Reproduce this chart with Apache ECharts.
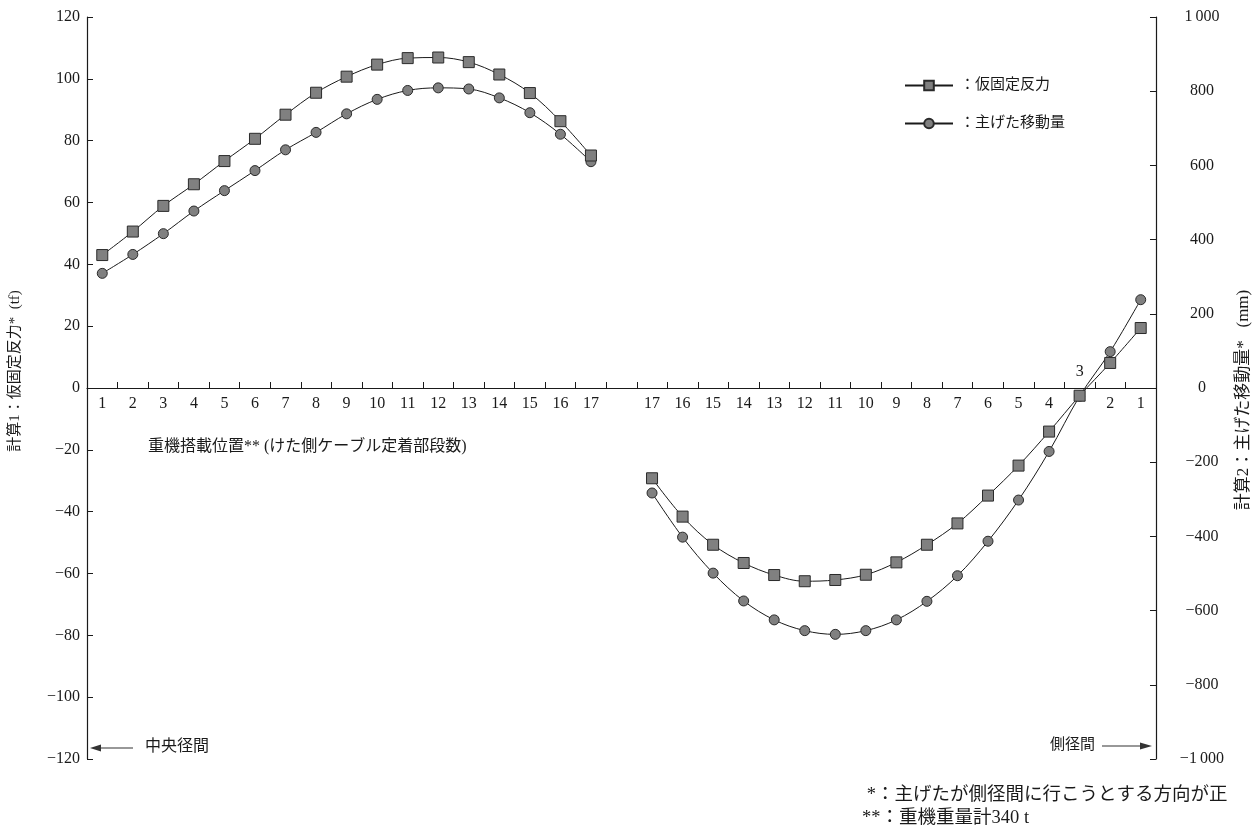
<!DOCTYPE html>
<html>
<head>
<meta charset="utf-8">
<script src="https://cdn.jsdelivr.net/npm/echarts@6/dist/echarts.min.js"></script>
<style>
html,body{margin:0;padding:0;background:#fff;}
#chart{width:1260px;height:835px;}
</style>
</head>
<body>
<div id="chart"></div>
<script>
// Categories: loading position (girder-side cable anchorage stage), centre span 1..17, gap, side span 17..1
const categories = ['1','2','3','4','5','6','7','8','9','10','11','12','13','14','15','16','17','',
                    '17','16','15','14','13','12','11','10','9','8','7','6','5','4','3','2','1'];
// Labels drawn below the axis (right-side "3" is drawn above the axis instead)
const bottomLabels = ['1','2','3','4','5','6','7','8','9','10','11','12','13','14','15','16','17','',
                      '17','16','15','14','13','12','11','10','9','8','7','6','5','4','','2','1'];
const topLabels = ['','','','','','','','','','','','','','','','','','',
                   '','','','','','','','','','','','','','','3','',''];

// 計算1: 仮固定反力 (tf)
const reactionCentre = [43.0, 50.6, 58.9, 65.9, 73.4, 80.6, 88.4, 95.5, 100.7, 104.6, 106.7, 106.9, 105.4, 101.4, 95.4, 86.3, 75.2];
const reactionSide   = [-29.2, -41.6, -50.7, -56.6, -60.5, -62.5, -62.1, -60.4, -56.4, -50.7, -43.8, -34.8, -25.1, -14.1, -2.5, 8.1, 19.4];
// 計算2: 主げた移動量 (mm)
const dispCentre = [309, 360, 416, 477, 532, 586, 642, 689, 739, 778, 802, 809, 806, 782, 742, 684, 610];
const dispSide   = [-283, -402, -499, -574, -625, -654, -664, -654, -625, -575, -506, -413, -302, -171, -22, 98, 238];

const seriesNames = ['仮固定反力', '主げた移動量'];
const leftTicks = {min: -120, max: 120, interval: 20};
const rightTicks = {min: -1000, max: 1000, interval: 200};

const SERIF = "'Liberation Serif', 'Noto Sans CJK JP', serif";
const JP = "'Liberation Serif', 'Noto Sans CJK JP', serif";
const INK = '#1a1a1a';

const GRID = {left: 85, right: 102, top: 17, bottom: 76};
const PLOT_H = 835 - GRID.top - GRID.bottom;
// zero line sits at the middle of the symmetric value range
const ZERO_OFFSET = -PLOT_H * (leftTicks.max / (leftTicks.max - leftTicks.min));

function minusFmt(v) {
  const a = Math.abs(v);
  let s = a >= 1000 ? (Math.floor(a / 1000) + '\u2009' + String(a % 1000).padStart(3, '0')) : String(a);
  return v < 0 ? '\u2212' + s : s;
}

const chart = echarts.init(document.getElementById('chart'), null, {renderer: 'canvas'});

const option = {
  backgroundColor: '#ffffff',
  animation: false,
  grid: {left: GRID.left, right: GRID.right, top: GRID.top, bottom: GRID.bottom, containLabel: false},
  legend: {
    data: seriesNames,
    orient: 'vertical',
    left: 899,
    top: 73,
    itemWidth: 48,
    itemHeight: 12,
    itemGap: 23,
    formatter: '：{name}',
    textStyle: {fontFamily: JP, fontSize: 15, color: INK, padding: [0, 0, 0, 2]}
  },
  xAxis: [{
    type: 'category',
    data: categories,
    position: 'bottom',
    offset: ZERO_OFFSET,
    boundaryGap: true,
    axisLine: {onZero: false, lineStyle: {color: INK, width: 1.2}},
    axisTick: {show: true, inside: true, length: 6, interval: 0, lineStyle: {color: INK}},
    axisLabel: {
      interval: 0, margin: 8, color: INK, fontFamily: SERIF, fontSize: 16,
      formatter: function (v, i) { return bottomLabels[i]; }
    },
    splitLine: {show: false}
  }, {
    type: 'category',
    data: categories,
    position: 'top',
    offset: ZERO_OFFSET,
    boundaryGap: true,
    axisLine: {show: false, onZero: false},
    axisTick: {show: false},
    axisLabel: {
      interval: 0, margin: 8, color: INK, fontFamily: SERIF, fontSize: 16,
      formatter: function (v, i) { return topLabels[i]; }
    },
    splitLine: {show: false}
  }],
  yAxis: [{
    type: 'value',
    position: 'left',
    min: leftTicks.min, max: leftTicks.max, interval: leftTicks.interval,
    name: '計算1：仮固定反力*  (tf)',
    nameLocation: 'middle',
    nameGap: 64,
    nameRotate: 90,
    nameTextStyle: {fontFamily: JP, fontSize: 15, color: INK, padding: [0, 0, 0, 34]},
    axisLine: {show: true, onZero: false, lineStyle: {color: INK, width: 1.2}},
    axisTick: {show: true, inside: true, length: 6, lineStyle: {color: INK}},
    axisLabel: {margin: 7, color: INK, fontFamily: SERIF, fontSize: 16, formatter: minusFmt},
    splitLine: {show: false}
  }, {
    type: 'value',
    position: 'right',
    min: rightTicks.min, max: rightTicks.max, interval: rightTicks.interval,
    name: '計算2：主げた移動量*   (mm)',
    nameLocation: 'middle',
    nameGap: 77,
    nameRotate: 90,
    nameTextStyle: {fontFamily: JP, fontSize: 17, color: INK, padding: [0, 0, 0, -24]},
    axisLine: {show: true, onZero: false, lineStyle: {color: INK, width: 1.2}},
    axisTick: {show: true, inside: true, length: 6, lineStyle: {color: INK}},
    axisLabel: {margin: 46, align: 'center', color: INK, fontFamily: SERIF, fontSize: 16, formatter: minusFmt},
    splitLine: {show: false}
  }],
  series: [{
    name: seriesNames[0],
    type: 'line',
    xAxisIndex: 0,
    yAxisIndex: 0,
    data: reactionCentre.concat([null], reactionSide),
    smooth: 0.35,
    connectNulls: false,
    symbol: 'rect',
    symbolSize: 11,
    z: 4,
    lineStyle: {color: INK, width: 1},
    itemStyle: {color: '#808080', borderColor: '#2a2a2a', borderWidth: 1},
    emphasis: {disabled: true}
  }, {
    name: seriesNames[1],
    type: 'line',
    xAxisIndex: 0,
    yAxisIndex: 1,
    data: dispCentre.concat([null], dispSide),
    smooth: 0.35,
    connectNulls: false,
    symbol: 'circle',
    symbolSize: 10,
    z: 3,
    lineStyle: {color: INK, width: 1},
    itemStyle: {color: '#808080', borderColor: '#2a2a2a', borderWidth: 1},
    emphasis: {disabled: true}
  }],
  graphic: [
    {type: 'text', left: 148, top: 439, style: {text: '重機搭載位置** (けた側ケーブル定着部段数)', font: '16px ' + JP, fill: INK}},
    // centre span arrow
    {type: 'line', shape: {x1: 96, y1: 748, x2: 133, y2: 748}, style: {stroke: '#333', lineWidth: 1.2}},
    {type: 'polygon', shape: {points: [[90, 748], [101, 744.5], [101, 751.5]]}, style: {fill: '#333'}},
    {type: 'text', left: 145, top: 739, style: {text: '中央径間', font: '16px ' + JP, fill: INK}},
    // side span arrow
    {type: 'line', shape: {x1: 1102, y1: 746, x2: 1143, y2: 746}, style: {stroke: '#333', lineWidth: 1.2}},
    {type: 'polygon', shape: {points: [[1152, 746], [1140, 742.5], [1140, 749.5]]}, style: {fill: '#333'}},
    {type: 'text', left: 1050, top: 738, style: {text: '側径間', font: '15px ' + JP, fill: INK}},
    // footnotes
    {type: 'text', left: 862, top: 786, style: {text: ' *：主げたが側径間に行こうとする方向が正', font: '18.5px ' + JP, fill: INK}},
    {type: 'text', left: 862, top: 809, style: {text: '**：重機重量計340 t', font: '18.5px ' + JP, fill: INK}}
  ]
};

chart.setOption(option);
</script>
</body>
</html>
